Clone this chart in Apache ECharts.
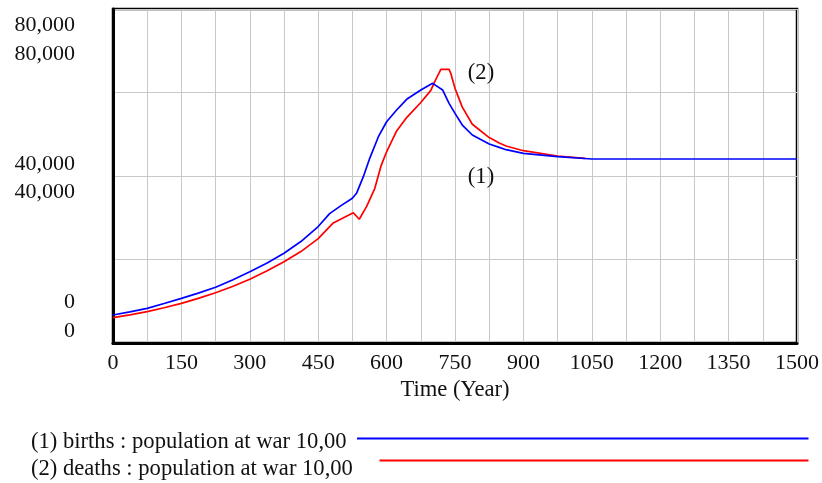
<!DOCTYPE html>
<html>
<head>
<meta charset="utf-8">
<script src="https://cdn.jsdelivr.net/npm/echarts@6/dist/echarts.min.js"></script>
<style>
html,body{margin:0;padding:0;background:#fff;}
#chart{width:822px;height:483px;}
</style>
</head>
<body>
<div id="chart"></div>
<script>
// ---- data ----
const birthsTime   = [0,37,75,112,150,187,225,262,300,337,375,412,450,475,500,525,534,549,563,582,600,622,644,675,701,705,723,737,750,766,788,825,847,862,900,975,1050,1200,1350,1500];
const birthsValues = [6700,7450,8300,9450,10700,11950,13340,15100,17080,19100,21480,24300,27900,31000,32900,34650,35850,39840,44230,49410,53000,55800,58370,60590,62190,62350,60590,57400,55000,52210,49820,47660,46860,46300,45430,44620,44070,44070,44070,44070];
const deathsTime   = [0,37,75,112,150,187,225,262,300,337,375,412,450,482,527,540,556,574,588,600,622,644,675,697,705,719,737,741,750,766,788,825,847,862,900,975,1035];
const deathsValues = [6060,6750,7500,8450,9500,10700,12050,13550,15250,17250,19470,21900,25000,28670,31210,29630,32650,37000,42500,45800,50800,54000,57600,60500,62500,65540,65540,64500,61000,56500,52400,49200,47900,47180,46060,44790,44230];
const xTickLabels  = [0,150,300,450,600,750,900,1050,1200,1350,1500];
const yTickLabels  = [0,40000,80000];
const seriesNames  = ['(1) births : population at war 10,00','(2) deaths : population at war 10,00'];
const seriesTags   = ['(1)','(2)'];
const tagPoints    = [[807,39760],[807,64670]];

// ---- layout ----
const gLeft = 113, gTop = 9, gRight = 797, gBottom = 343;
const FONT = 'Liberation Serif';
const FS = 22;      // tick labels
const FST = 22.6;   // words
const TXT = '#111';

// label-only axes: value range chosen so label rows sit like the reference
function rangeFor(y80, y0) {
  const slope = (y0 - y80) / 80000;
  return { min: -(gBottom - y0) / slope, max: (y0 - gTop) / slope };
}
const r1 = rangeFor(25.3, 302.5);
const r2 = rangeFor(54.2, 330.8);

function fmt(v){ return Math.round(v).toLocaleString('en-US'); }
function pairs(t, v){ return t.map((x,i)=>[x, v[i]]); }

const labelAxis = (r) => ({
  type:'value', position:'left', min:r.min, max:r.max, gridIndex:0,
  axisLine:{show:false}, axisTick:{show:false}, splitLine:{show:false},
  axisLabel:{ show:true, customValues:yTickLabels, formatter:fmt, margin:38,
    fontFamily:FONT, fontSize:FS, color:TXT }
});

const chart = echarts.init(document.getElementById('chart'), null, {renderer:'canvas'});
chart.setOption({
  animation:false,
  backgroundColor:'#fff',
  grid:{ left:gLeft, top:gTop, width:gRight-gLeft, height:gBottom-gTop,
    show:true, borderColor:'#000', borderWidth:2.5, backgroundColor:'transparent' },
  xAxis:{
    type:'value', min:0, max:1500, interval:75,
    name:'Time (Year)', nameLocation:'middle', nameGap:22,
    nameTextStyle:{fontFamily:FONT, fontSize:FST, color:TXT},
    axisLine:{show:true, onZero:false, lineStyle:{color:'#000', width:3}},
    axisTick:{show:false},
    axisLabel:{ customValues:xTickLabels, margin:9, fontFamily:FONT, fontSize:FS, color:TXT,
      formatter:(v)=>String(v) },
    splitLine:{show:true, lineStyle:{color:'#c8c8c8', width:1}}
  },
  yAxis:[
    { type:'value', min:0, max:80000, interval:20000, position:'left',
      axisLine:{show:true, lineStyle:{color:'#000', width:3}},
      axisTick:{show:false}, axisLabel:{show:false},
      splitLine:{show:true, lineStyle:{color:'#c8c8c8', width:1}} },
    labelAxis(r1),
    labelAxis(r2)
  ],
  series:[
    { name:seriesNames[1], type:'line', data:pairs(deathsTime, deathsValues),
      showSymbol:false, symbol:'none', lineStyle:{color:'#ff0000', width:1.7}, z:2, silent:true,
      markPoint:{ symbol:'circle', symbolSize:0, silent:true,
        label:{show:true, position:'inside', formatter:seriesTags[1], fontFamily:FONT, fontSize:FST, color:TXT},
        data:[{coord:tagPoints[1]}] } },
    { name:seriesNames[0], type:'line', data:pairs(birthsTime, birthsValues),
      showSymbol:false, symbol:'none', lineStyle:{color:'#0000ff', width:1.7}, z:3, silent:true,
      markPoint:{ symbol:'circle', symbolSize:0, silent:true,
        label:{show:true, position:'inside', formatter:seriesTags[0], fontFamily:FONT, fontSize:FST, color:TXT},
        data:[{coord:tagPoints[0]}] } }
  ],
  graphic:[
    { type:'text', left:31, top:443-FST/2-1, style:{text:seriesNames[0], font:FST+'px "'+FONT+'"', fill:TXT} },
    { type:'line', shape:{x1:357, y1:438.5, x2:808.5, y2:438.5}, style:{stroke:'#0000ff', lineWidth:2} },
    { type:'text', left:31, top:470-FST/2-1, style:{text:seriesNames[1], font:FST+'px "'+FONT+'"', fill:TXT} },
    { type:'line', shape:{x1:379.5, y1:460.5, x2:808.5, y2:460.5}, style:{stroke:'#ff0000', lineWidth:2} }
  ]
});
</script>
</body>
</html>
